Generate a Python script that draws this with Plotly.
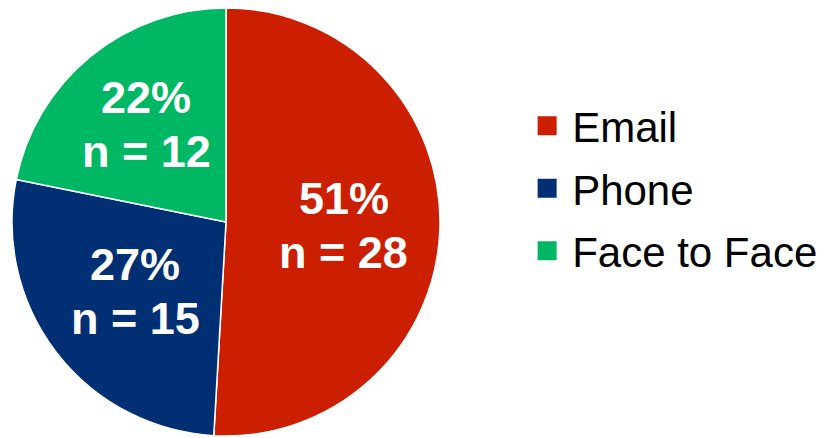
import numpy as np
import plotly.graph_objects as go

categories = ["Email", "Phone", "Face to Face"]
counts = [28, 15, 12]
percent_labels = ["51%", "27%", "22%"]
colors = ["#CC1E00", "#002F73", "#00B864"]

W, H = 825, 438
cx, cy, r = 226, 222, 214
label_radius = [0.551, 0.535, 0.587]   # label distance from centre, fraction of radius
line_gap = 27                          # half the distance between the two label lines (px)
label_font = dict(family="Liberation Sans, Arial", size=45, color="white", weight="bold")

fig = go.Figure(go.Pie(
    labels=categories,
    values=counts,
    textinfo="none",
    marker=dict(colors=colors, line=dict(color="white", width=1.5)),
    sort=False,
    direction="clockwise",
    rotation=0,
    hoverinfo="skip",
    domain=dict(x=[(cx - r) / W, (cx + r) / W], y=[(H - cy - r) / H, (H - cy + r) / H]),
))

# slice labels at the middle angle of each slice
vals = np.array(counts, dtype=float)
cum = np.cumsum(vals) - vals / 2
mid = cum / vals.sum() * 2 * np.pi
for ang, lr, pct, n in zip(mid, label_radius, percent_labels, counts):
    px = cx + lr * r * np.sin(ang)
    py = cy - lr * r * np.cos(ang)
    for txt, shift in ((pct, line_gap), (f"n = {n}", -line_gap)):
        fig.add_annotation(
            x=px / W, y=(H - py) / H, xref="paper", yref="paper",
            text=txt, showarrow=False, yshift=shift,
            xanchor="center", yanchor="middle", font=label_font,
        )

fig.update_layout(
    width=W, height=H,
    margin=dict(l=0, r=0, t=0, b=0),
    paper_bgcolor="white",
    plot_bgcolor="white",
    showlegend=True,
    legend=dict(
        x=0.645, y=0.57, xanchor="left", yanchor="middle",
        font=dict(family="Liberation Sans, Arial", size=42, color="black"),
        itemwidth=30, bgcolor="rgba(0,0,0,0)", borderwidth=0,
    ),
)

post = """
document.body.style.margin = '0';
var gd = document.getElementById('{plot_id}');
function fixLegend() {
  var items = gd.querySelectorAll('.legend .traces');
  if (!items.length) return;
  var ys = [];
  items.forEach(function (g) {
    var m = /translate\\(([-\\d.]+),\\s*([-\\d.]+)\\)/.exec(g.getAttribute('transform') || '');
    ys.push(m ? [parseFloat(m[1]), parseFloat(m[2])] : [0, 0]);
  });
  if (items.length > 1) {
    var orig = ys[1][1] - ys[0][1];
    var mid = (items.length - 1) / 2;
    items.forEach(function (g, i) {
      var ny = ys[i][1] + (i - mid) * (62.5 - orig);
      g.setAttribute('transform', 'translate(' + ys[i][0] + ',' + ny + ')');
    });
  }
  gd.querySelectorAll('.legend .legendpoints path').forEach(function (p) {
    p.setAttribute('d', 'M9.5,9.5H-9.5V-9.5H9.5Z');
    p.setAttribute('transform', 'translate(15,0)');
    p.style.strokeWidth = '0px';
  });
}
fixLegend();
"""

fig.write_html("out.html", post_script=post, config={"displayModeBar": False})
